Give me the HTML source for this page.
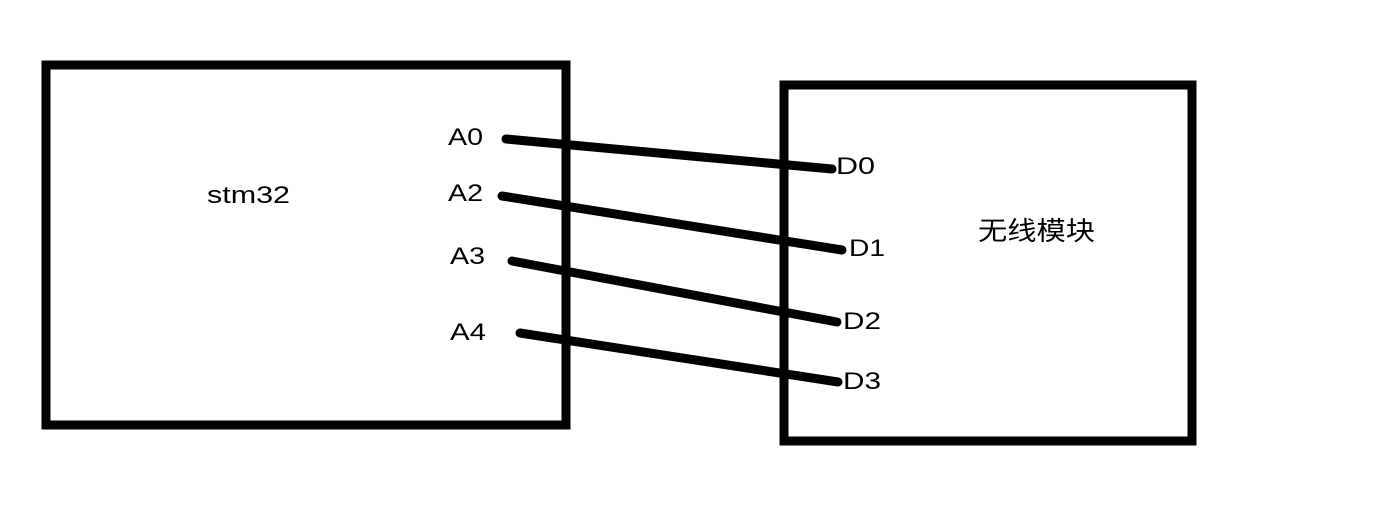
<!DOCTYPE html>
<html><head><meta charset="utf-8"><style>
html,body{margin:0;padding:0;background:#fff;width:1383px;height:513px;overflow:hidden}
svg{display:block}
text{font-family:"Liberation Sans","Noto Sans CJK SC",sans-serif;font-size:24px;fill:#000}
</style></head><body>
<svg width="1383" height="513" viewBox="0 0 1383 513">
<rect x="46" y="65" width="520" height="360" fill="none" stroke="#000" stroke-width="9"/>
<rect x="784" y="85" width="408" height="356" fill="none" stroke="#000" stroke-width="9"/>
<g stroke="#000" stroke-width="9" stroke-linecap="round">
<line x1="506" y1="139" x2="832" y2="169"/>
<line x1="502" y1="196" x2="842" y2="250"/>
<line x1="512" y1="261" x2="837" y2="322"/>
<line x1="520" y1="333" x2="838" y2="382"/>
</g>
<text x="207" y="203" textLength="83" lengthAdjust="spacingAndGlyphs">stm32</text>
<text x="978" y="240" font-size="26" textLength="117" lengthAdjust="spacingAndGlyphs" style="font-size:26px">无线模块</text>
<text x="448" y="145" textLength="35" lengthAdjust="spacingAndGlyphs">A0</text>
<text x="448" y="201" textLength="35" lengthAdjust="spacingAndGlyphs">A2</text>
<text x="450" y="264" textLength="35" lengthAdjust="spacingAndGlyphs">A3</text>
<text x="450" y="340" textLength="36" lengthAdjust="spacingAndGlyphs">A4</text>
<text x="836" y="174" textLength="39" lengthAdjust="spacingAndGlyphs">D0</text>
<text x="849" y="256" textLength="36" lengthAdjust="spacingAndGlyphs">D1</text>
<text x="843" y="329" textLength="38" lengthAdjust="spacingAndGlyphs">D2</text>
<text x="843" y="389" textLength="38" lengthAdjust="spacingAndGlyphs">D3</text>
</svg>
</body></html>
